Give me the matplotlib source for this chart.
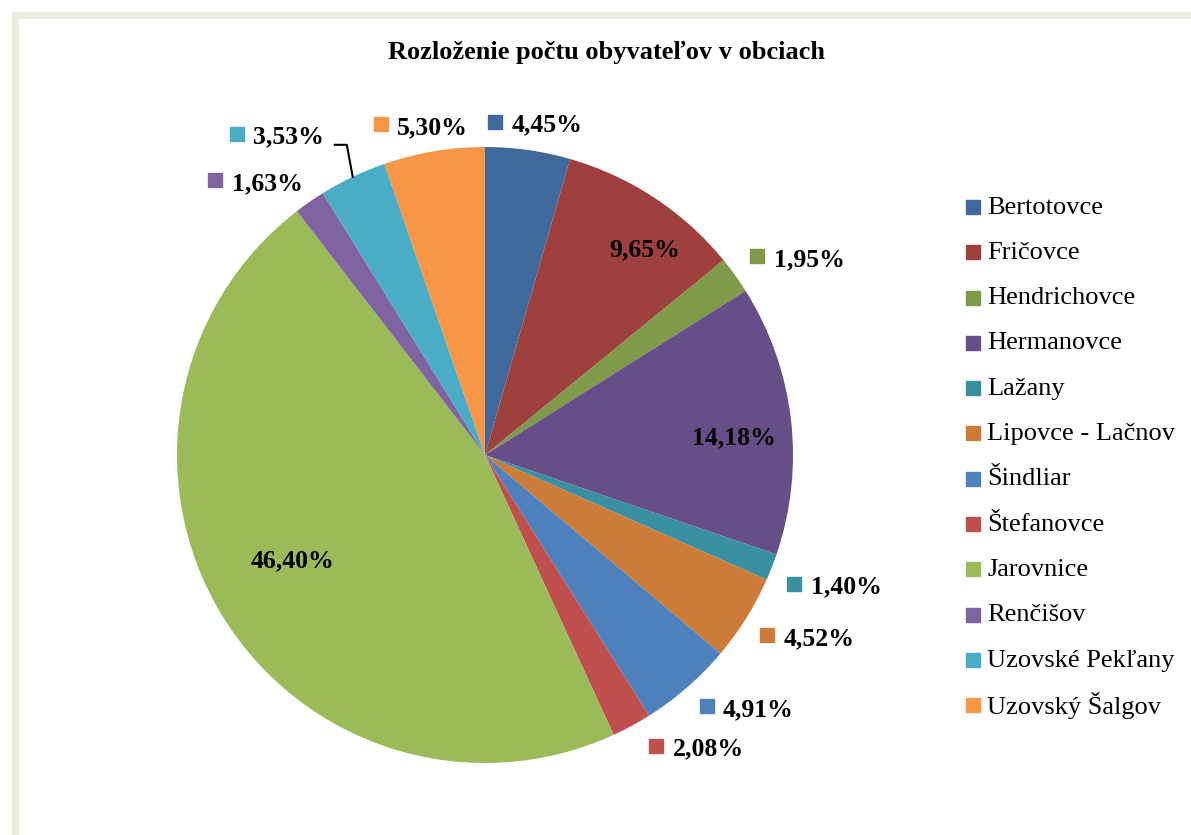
import numpy as np
import matplotlib
matplotlib.use("Agg")
import matplotlib.pyplot as plt
from matplotlib.lines import Line2D
from matplotlib.patches import Rectangle

# ---------------- data ----------------
title = "Rozloženie počtu obyvateľov v obciach"
municipalities = ["Bertotovce", "Fričovce", "Hendrichovce", "Hermanovce", "Lažany",
                  "Lipovce - Lačnov", "Šindliar", "Štefanovce", "Jarovnice", "Renčišov",
                  "Uzovské Pekľany", "Uzovský Šalgov"]
shares = [4.45, 9.65, 1.95, 14.18, 1.40, 4.52, 4.91, 2.08, 46.40, 1.63, 3.53, 5.30]

# ---------------- style ----------------
colors = ["#3F689B", "#9E413E", "#7F9A48", "#684E88", "#3A8FA3", "#CC7B38",
          "#4F81BD", "#C0504D", "#9BBB59", "#8064A2", "#4BACC6", "#F79646"]
# label placement: (radius in pie radii, angle nudge in degrees, inside?)
label_r = [1.09, 0.85, 1.20, 0.81, 1.21, 1.20, 1.18, 1.17, 0.71, 1.16, 1.24, 1.09]
label_da = [-0.6, -4.3, -3.4, -2.4, 1.0, 2.6, 5.0, 7.4, -2.7, 5.3, 7.6, 1.5]
inside = [False, True, False, True, False, False, False, False, True, False, False, False]
leader = [False] * 10 + [True, False]

W, H = 1191, 835
fig = plt.figure(figsize=(W / 100, H / 100), dpi=100)
fig.patch.set_facecolor("white")

# light frame (top and left edges visible)
frame_col = "#EBEFDF"
fig.patches.append(Rectangle((12 / W, 1 - 19 / H), 1, 7 / H, transform=fig.transFigure,
                             facecolor=frame_col, edgecolor="none", zorder=0))
fig.patches.append(Rectangle((12 / W, -0.01), 7 / W, 1 - 12 / H + 0.01, transform=fig.transFigure,
                             facecolor=frame_col, edgecolor="none", zorder=0))

R_PX = 308.0
cx_px, cy_px = 485.0, 455.0
ax = fig.add_axes([(cx_px - R_PX) / W, (H - cy_px - R_PX) / H, 2 * R_PX / W, 2 * R_PX / H])
wedges, _ = ax.pie(shares, colors=colors, startangle=90, counterclock=False, radius=1.0,
                   wedgeprops=dict(linewidth=0))
ax.set_xlim(-1, 1)
ax.set_ylim(-1, 1)
ax.axis("off")

serif = ["Liberation Serif", "DejaVu Serif"]
lab_fs = 18.5
px = 1.0 / R_PX  # one pixel in data units

for i, w in enumerate(wedges):
    mid = (w.theta1 + w.theta2) / 2.0
    ang = np.deg2rad(mid + label_da[i])
    x, y = label_r[i] * np.cos(ang), label_r[i] * np.sin(ang)
    txt = f"{shares[i]:.2f}".replace(".", ",") + "%"
    if inside[i]:
        ax.text(x, y - 2 * px, txt, ha="center", va="center", fontsize=lab_fs,
                fontweight="bold", family=serif, color="black")
    else:
        ax.text(x + 12 * px, y - 2 * px, txt, ha="center", va="center", fontsize=lab_fs,
                fontweight="bold", family=serif, color="black")
        ax.plot([x - 40 * px], [y + 1 * px], marker="s", markersize=9.5,
                color=colors[i], linestyle="none", clip_on=False)
    if leader[i]:
        ma = np.deg2rad(mid)
        ex, ey = np.cos(ma), np.sin(ma)
        elbow = (x + 70 * px, y - 10 * px)
        end = (x + 58 * px, y - 10 * px)
        ax.plot([ex, elbow[0], end[0]], [ey, elbow[1], end[1]], color="black",
                linewidth=1.5, clip_on=False)

fig.text(606 / W, 1 - 53 / H, title, ha="center", va="center", fontsize=19,
         fontweight="bold", family=serif)

# legend (fixed row pitch, like the original)
leg_x_px, leg_y0_px, pitch_px = 966.0, 207.0, 45.3
for i, name in enumerate(municipalities):
    yy = 1 - (leg_y0_px + i * pitch_px) / H
    fig.add_artist(Line2D([(leg_x_px + 7.5) / W], [yy], marker="s", markersize=10.5,
                          linestyle="none", color=colors[i], transform=fig.transFigure))
    fig.text((leg_x_px + 21) / W, yy + 2 / H, name, ha="left", va="center_baseline",
             fontsize=19, family=serif, color="black")

fig.savefig("out.png", dpi=100, facecolor="white")
